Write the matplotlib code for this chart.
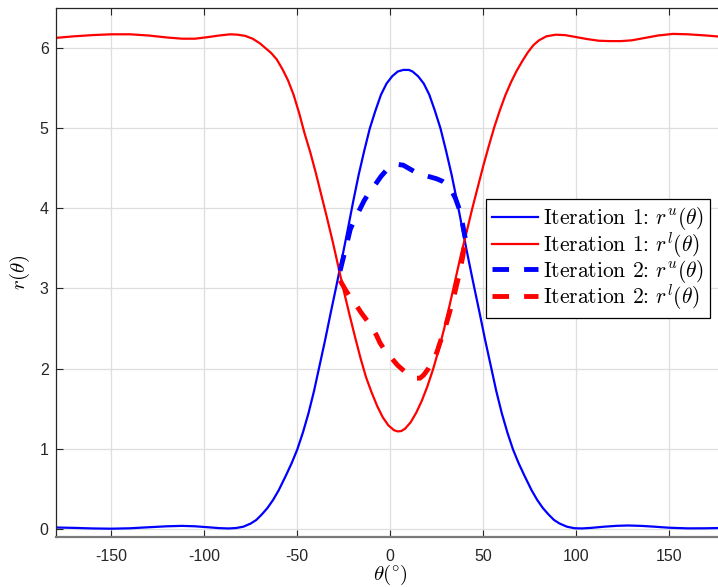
import matplotlib
matplotlib.use("Agg")
import matplotlib.pyplot as plt

plt.rcParams['mathtext.fontset'] = 'cm'
plt.rcParams['axes.unicode_minus'] = False
plt.rcParams['font.family'] = ['Liberation Sans', 'DejaVu Sans']

# Iteration 1, upper curve r^u
theta_u1 = [-180, -170, -160, -150, -140, -130, -120, -112, -105, -98, -92, -87, -83, -79,
            -75, -72, -69, -66, -63, -60, -56, -53, -50, -47, -44, -41, -38, -35, -32, -29,
            -26, -23, -20, -17, -14, -11, -8, -5, -2, 1, 4, 7, 10, 12, 15, 18, 21, 24, 27,
            30, 33, 36, 39, 42, 45, 48, 51, 54, 57, 60, 63, 66, 69, 72, 76, 79, 82, 85, 88,
            91, 95, 99, 103, 108, 115, 122, 128, 135, 142, 150, 160, 170, 180]
r_u1 = [0.015, 0.01, 0.003, 0.0, 0.005, 0.018, 0.03, 0.035, 0.03, 0.018, 0.007, 0.003, 0.008,
        0.025, 0.065, 0.11, 0.18, 0.26, 0.36, 0.48, 0.67, 0.82, 0.99, 1.2, 1.44, 1.72, 2.04,
        2.36, 2.7, 3.03, 3.37, 3.72, 4.08, 4.42, 4.72, 5.0, 5.22, 5.42, 5.56, 5.65, 5.71, 5.73,
        5.73, 5.71, 5.65, 5.56, 5.42, 5.22, 5.0, 4.72, 4.42, 4.08, 3.72, 3.37, 3.03, 2.7, 2.36,
        2.04, 1.72, 1.44, 1.2, 0.99, 0.82, 0.67, 0.48, 0.36, 0.26, 0.18, 0.11, 0.065, 0.025,
        0.006, 0.003, 0.01, 0.025, 0.036, 0.04, 0.035, 0.025, 0.012, 0.004, 0.005, 0.01]

# Iteration 1, lower curve r^l
theta_l1 = [-180, -170, -160, -150, -140, -130, -120, -112, -105, -98, -92, -86, -82, -78,
            -74, -70, -67, -64, -61, -58, -55, -52, -49, -46, -43, -40, -37, -34, -31, -28,
            -25, -22, -19, -16, -13, -10, -7, -4, -1, 2, 4, 6, 8, 11, 14, 17, 20, 23, 26, 29,
            32, 35, 38, 41, 44, 47, 50, 53, 56, 59, 62, 65, 68, 71, 74, 77, 80, 84, 89, 94,
            100, 106, 112, 118, 124, 130, 137, 144, 152, 160, 170, 180]
r_l1 = [6.13, 6.15, 6.165, 6.175, 6.175, 6.16, 6.135, 6.12, 6.12, 6.14, 6.16, 6.175, 6.17,
        6.155, 6.12, 6.06, 6.0, 5.94, 5.86, 5.74, 5.6, 5.42, 5.19, 4.93, 4.7, 4.44, 4.16, 3.88,
        3.59, 3.28, 2.97, 2.68, 2.4, 2.13, 1.89, 1.7, 1.53, 1.39, 1.29, 1.23, 1.215, 1.22, 1.25,
        1.33, 1.45, 1.6, 1.78, 1.99, 2.23, 2.5, 2.8, 3.11, 3.42, 3.7, 3.99, 4.26, 4.53, 4.78,
        5.02, 5.23, 5.42, 5.58, 5.72, 5.84, 5.95, 6.04, 6.1, 6.15, 6.17, 6.165, 6.14, 6.115,
        6.095, 6.09, 6.09, 6.1, 6.13, 6.16, 6.18, 6.175, 6.16, 6.14]

# Iteration 2, upper curve r^u
theta_u2 = [-27, -24, -21.5, -19, -17, -14, -11, -8, -5, -2, 1, 4, 7, 10, 13, 16, 19, 22, 25,
            28, 31, 33, 35, 37, 39, 40.3]
r_u2 = [3.22, 3.5, 3.74, 3.87, 3.96, 4.1, 4.21, 4.3, 4.4, 4.48, 4.53, 4.55, 4.54, 4.5, 4.46,
        4.43, 4.41, 4.39, 4.37, 4.34, 4.29, 4.22, 4.13, 4.0, 3.79, 3.63]

# Iteration 2, lower curve r^l
theta_l2 = [-27, -24, -21.5, -18, -15.4, -12.5, -10, -7.5, -5.5, -3, 0.7, 4, 7.9, 11, 14, 16,
            18, 20.5, 23.1, 25, 26.7, 29.4, 32, 34.5, 37, 39, 40.3]
r_l2 = [3.1, 2.98, 2.89, 2.78, 2.69, 2.6, 2.52, 2.42, 2.32, 2.23, 2.13, 2.04, 1.96, 1.91, 1.88,
        1.88, 1.92, 2.0, 2.11, 2.2, 2.32, 2.5, 2.71, 2.93, 3.17, 3.4, 3.6]

labels = [r'Iteration 1: $r^u(\theta)$',
          r'Iteration 1: $r^l(\theta)$',
          r'Iteration 2: $r^u(\theta)$',
          r'Iteration 2: $r^l(\theta)$']

fig = plt.figure(figsize=(7.18, 5.87), dpi=100)
ax = fig.add_axes([0.0774, 0.0857, 0.9323, 0.9002])

ax.plot(theta_u1, r_u1, color='#0000ff', lw=1.6, label=labels[0])
ax.plot(theta_l1, r_l1, color='#ff0000', lw=1.6, label=labels[1])
ax.plot(theta_u2, r_u2, color='#0000ff', lw=3.5, ls='--', dashes=(3.4, 3.1), label=labels[2])
ax.plot(theta_l2, r_l2, color='#ff0000', lw=3.5, ls='--', dashes=(3.4, 3.1), label=labels[3])

ax.set_xlim(-180, 180)
ax.set_ylim(-0.1, 6.5)
ax.set_xticks([-150, -100, -50, 0, 50, 100, 150])
ax.set_yticks([0, 1, 2, 3, 4, 5, 6])
ax.grid(True, color='#dedede', lw=0.9)
ax.set_axisbelow(True)

ax.tick_params(direction='in', length=5, width=0.8, color='#262626',
               labelsize=11.5, labelcolor='#262626', top=True, right=True)
ax.tick_params(axis='x', pad=9)
ax.tick_params(axis='y', pad=5)
for side in ['left', 'top', 'right']:
    ax.spines[side].set_color('#262626')
    ax.spines[side].set_linewidth(0.9)
ax.spines['bottom'].set_color('#7a7a7a')
ax.spines['bottom'].set_linewidth(1.6)

ax.set_xlabel(r'$\theta(\!{}^\circ\!)$', fontsize=15, va='center')
ax.xaxis.set_label_coords(0.5, -0.0725)
ax.set_ylabel(r'$r(\theta)$', fontsize=15, va='center')
ax.yaxis.set_label_coords(-0.0532, 0.5)

leg = fig.legend(loc='upper left', bbox_to_anchor=(486 / 718, 1 - 199 / 587),
                 prop={'family': 'cmr10', 'size': 15.5}, fancybox=False, edgecolor='black',
                 framealpha=1, borderpad=0.3, labelspacing=-0.1, handlelength=2.1,
                 handletextpad=0.25, borderaxespad=0)
leg.get_frame().set_linewidth(0.9)

fig.savefig('out.png', dpi=100)
